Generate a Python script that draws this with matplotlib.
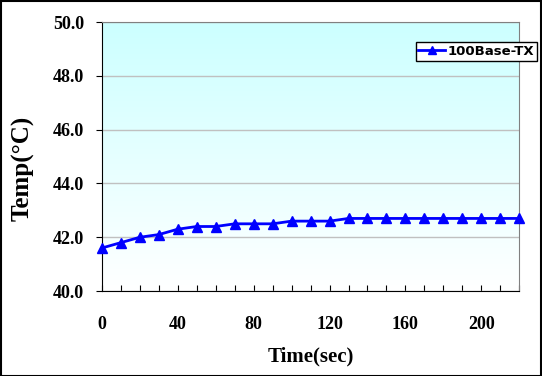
import numpy as np
import matplotlib
matplotlib.use('Agg')
import matplotlib.pyplot as plt
from matplotlib.colors import LinearSegmentedColormap
from matplotlib.patches import Rectangle

# data
time_sec = [0, 10, 20, 30, 40, 50, 60, 70, 80, 90, 100, 110, 120, 130, 140,
            150, 160, 170, 180, 190, 200, 210, 220]
temp_c = [41.6, 41.8, 42.0, 42.1, 42.3, 42.4, 42.4, 42.5, 42.5, 42.5, 42.6,
          42.6, 42.6, 42.7, 42.7, 42.7, 42.7, 42.7, 42.7, 42.7, 42.7, 42.7, 42.7]
series_name = '100Base-TX'
yticks = [40, 42, 44, 46, 48, 50]
xlabels_at = [0, 40, 80, 120, 160, 200]

serif = ['Liberation Serif', 'DejaVu Serif']

fig = plt.figure(figsize=(5.42, 3.76), dpi=100)
fig.patch.set_facecolor('white')
ax = fig.add_axes([0.188, 0.226, 0.770, 0.715])

# cyan-to-white background gradient
cmap = LinearSegmentedColormap.from_list('bg', ['#ffffff', '#ccffff'])
grad = np.linspace(0, 1, 256).reshape(-1, 1)
ax.imshow(grad, aspect='auto', cmap=cmap, origin='lower',
          extent=[0, 1, 0, 1], transform=ax.transAxes, zorder=0)

ax.plot(time_sec, temp_c, color='#0000ff', lw=2, marker='^', ms=7,
        label=series_name, zorder=3, clip_on=False)

ax.set_xlim(0, 220)
ax.set_ylim(40, 50)
ax.set_yticks(yticks)
ax.set_yticklabels([f'{v:.1f}' for v in yticks])
ax.set_xticks(time_sec)
ax.set_xticklabels([str(t) if t in xlabels_at else '' for t in time_sec])
ax.yaxis.grid(True, color='#c0c0c0', lw=1)
ax.set_axisbelow(True)

ax.tick_params(axis='x', direction='in', length=4, pad=18, color='black')
ax.tick_params(axis='y', direction='out', length=4, pad=9, color='black')
for lbl in ax.get_xticklabels() + ax.get_yticklabels():
    lbl.set_fontfamily(serif)
    lbl.set_fontweight('bold')
    lbl.set_fontsize(13)

for side in ['top', 'right']:
    ax.spines[side].set_color('#808080')
for side in ['left', 'bottom']:
    ax.spines[side].set_color('black')

ax.set_xlabel('Time(sec)', fontfamily=serif, fontweight='bold', fontsize=15, labelpad=10)
ax.set_ylabel('Temp(°C)', fontfamily=serif, fontweight='bold', fontsize=18)
ax.yaxis.set_label_coords(-0.16, 0.457)

leg = ax.legend(loc='upper left', bbox_to_anchor=(0.752, 0.925), frameon=True,
                fancybox=False, borderpad=0.2, handlelength=2.0, handletextpad=0.2,
                markerscale=0.8, borderaxespad=0,
                prop={'family': 'DejaVu Sans', 'weight': 'bold', 'size': 9.5})
leg.get_frame().set_edgecolor('black')
leg.get_frame().set_linewidth(1)
leg.get_frame().set_alpha(1)

# outer border of the chart
fig.patches.append(Rectangle((0.001, 0.001), 0.997, 0.996, transform=fig.transFigure,
                             fill=False, edgecolor='black', lw=1.5))

fig.savefig('out.png', dpi=100)
